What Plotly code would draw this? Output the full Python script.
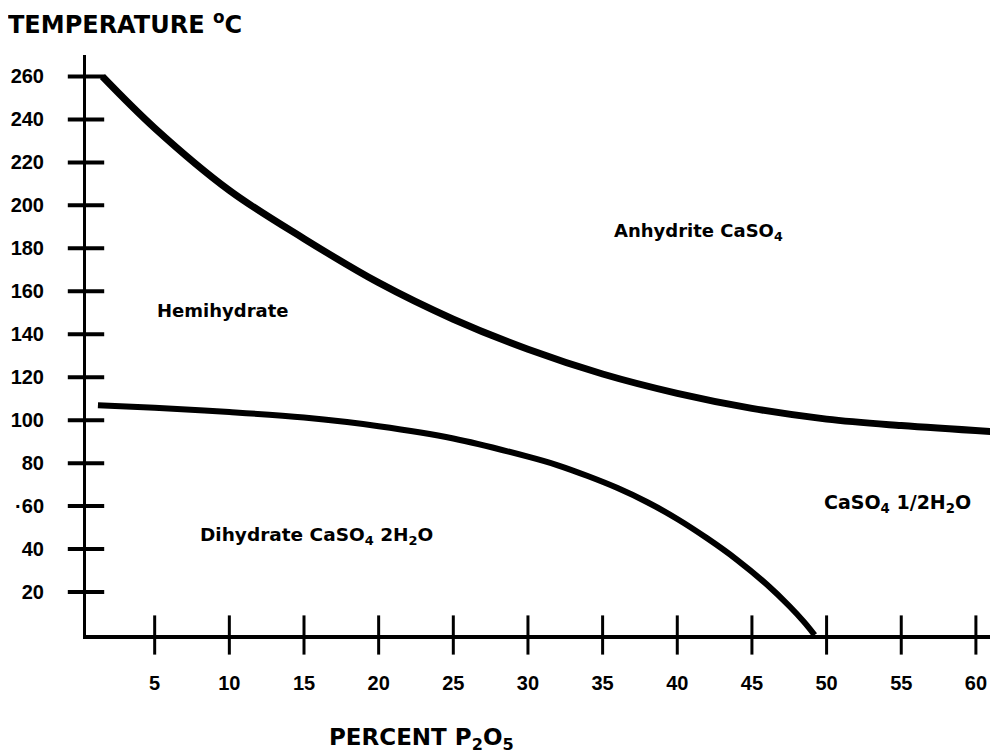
import plotly.graph_objects as go

# ---- data ----
upper_x = [1.5, 5, 10, 15, 20, 25, 30, 35, 40, 45, 50, 55, 61.3]
upper_y = [260, 236, 207, 184.5, 164, 147, 133, 121.5, 112.5, 105.5, 100.5, 97.5, 94.6]

lower_x = [1.2, 5, 10, 15, 20, 25, 30, 32, 34, 36, 38, 40, 42, 44, 46, 47.5, 48.5, 49.2]
lower_y = [107, 105.8, 103.8, 101.2, 97.2, 91.5, 83, 79, 74, 68.4, 61.8, 54, 45, 35, 23.5, 13.5, 6, 0]

x_ticks = [5, 10, 15, 20, 25, 30, 35, 40, 45, 50, 55, 60]
y_ticks = [20, 40, 60, 80, 100, 120, 140, 160, 180, 200, 220, 240, 260]
y_tick_text = ["20", "40", "·60", "80", "100", "120", "140", "160", "180", "200", "220", "240", "260"]

region_labels = ["Hemihydrate", "Anhydrite CaSO<sub>4</sub>",
                 "Dihydrate CaSO<sub>4</sub> 2H<sub>2</sub>O", "CaSO<sub>4</sub> 1/2H<sub>2</sub>O"]
region_x = [5.0, 35.6, 7.9, 49.7]
region_y = [151, 187.5, 46, 61]
region_size = [18, 18, 18.5, 19]

X_RANGE = [0.4, 61.48]
Y_RANGE = [0, 270]

fig = go.Figure()

# phase boundaries
fig.add_trace(go.Scatter(x=upper_x, y=upper_y, mode="lines",
                         line=dict(color="black", width=7, shape="spline", smoothing=1.0),
                         cliponaxis=False, hoverinfo="skip"))
fig.add_trace(go.Scatter(x=lower_x, y=lower_y, mode="lines",
                         line=dict(color="black", width=6, shape="spline", smoothing=1.0),
                         cliponaxis=False, hoverinfo="skip"))

# crossing tick marks
fig.add_trace(go.Scatter(x=[X_RANGE[0]] * len(y_ticks), y=y_ticks, mode="markers",
                         marker=dict(symbol="line-ew", size=26, line=dict(color="black", width=4)),
                         cliponaxis=False, hoverinfo="skip"))
fig.add_trace(go.Scatter(x=x_ticks, y=[0] * len(x_ticks), mode="markers",
                         marker=dict(symbol="line-ns", size=28, line=dict(color="black", width=3)),
                         cliponaxis=False, hoverinfo="skip"))

tick_font = dict(family="Liberation Sans, Arial, sans-serif", size=20, color="black", weight="bold")

fig.update_xaxes(range=X_RANGE, showgrid=False, zeroline=False, showline=True,
                 linecolor="black", linewidth=4, ticks="",
                 tickvals=x_ticks, ticktext=[str(v) for v in x_ticks],
                 tickfont=tick_font, ticklabelstandoff=27)
fig.update_yaxes(range=Y_RANGE, showgrid=False, zeroline=False, showline=True,
                 linecolor="black", linewidth=3, ticks="",
                 tickvals=y_ticks, ticktext=y_tick_text,
                 tickfont=tick_font, ticklabelstandoff=35)

for t, x, y, s in zip(region_labels, region_x, region_y, region_size):
    fig.add_annotation(x=x, y=y, text=t, showarrow=False, xanchor="left", yanchor="middle",
                       font=dict(family="DejaVu Sans, sans-serif", size=s, color="black",
                                 weight="bold"))

fig.add_annotation(xref="paper", yref="paper", x=(413 - 78) / 912, y=-(731 - 627) / 580,
                   text="PERCENT P<sub>2</sub>O<sub>5</sub>", showarrow=False,
                   xanchor="center", yanchor="middle",
                   font=dict(family="DejaVu Sans, sans-serif", size=23, color="black", weight="bold"))

# the page body has an 8px margin, so the figure is sized/offset to land on the 998x755 window
fig.update_layout(
    width=990, height=747,
    margin=dict(l=78, r=0, t=47, b=120),
    paper_bgcolor="white", plot_bgcolor="white",
    showlegend=False,
    title=dict(text="TEMPERATURE <sup>o</sup>C", x=0, xanchor="left",
               y=1 - 17 / 747, yanchor="middle",
               font=dict(family="DejaVu Sans, sans-serif", size=24, color="black", weight="bold")),
)

fig.write_html("out.html")
